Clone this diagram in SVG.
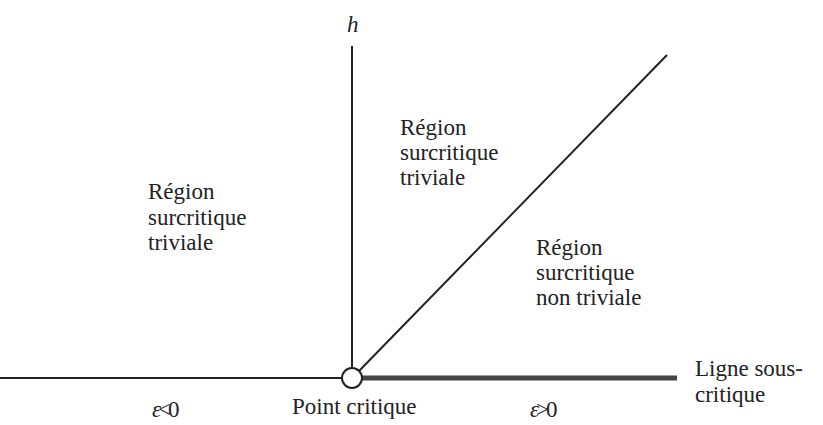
<svg xmlns="http://www.w3.org/2000/svg" width="823" height="425" viewBox="0 0 823 425">
<style>
text{font-family:"Liberation Serif","Times New Roman",serif;font-size:23px;fill:#222}
.ln{stroke:#222;stroke-width:2;fill:none}
</style>
<rect width="823" height="425" fill="#fff"/>
<g id="connectors">
<line class="ln" x1="0" y1="378" x2="342" y2="378"/>
<line class="ln" x1="352" y1="46" x2="352" y2="368"/>
<line class="ln" x1="359" y1="371" x2="667" y2="55"/>
<line x1="362" y1="378" x2="677" y2="378" stroke="#444" stroke-width="5"/>
</g>
<g id="critical-point"><circle cx="352" cy="378" r="10" fill="#fff" stroke="#222" stroke-width="2"/>
<text x="292" y="414">Point critique</text></g>
<g id="axis-h"><text x="347" y="32" font-style="italic">h</text></g>
<g id="left-region"><text x="148" y="199">Région</text><text x="148" y="225">surcritique</text><text x="148" y="250">triviale</text></g>
<g id="mid-region"><text x="400" y="135">Région</text><text x="400" y="160">surcritique</text><text x="400" y="185">triviale</text></g>
<g id="right-region"><text x="536" y="255">Région</text><text x="536" y="280">surcritique</text><text x="536" y="305">non triviale</text></g>
<g id="subcritical"><text x="695" y="376">Ligne sous-</text><text x="695" y="402">critique</text></g>
<g id="eps-neg"><text x="152" y="417" letter-spacing="-3"><tspan font-style="italic">ε</tspan>&lt;0</text></g>
<g id="eps-pos"><text x="530" y="417" letter-spacing="-3"><tspan font-style="italic">ε</tspan>&gt;0</text></g>
</svg>
